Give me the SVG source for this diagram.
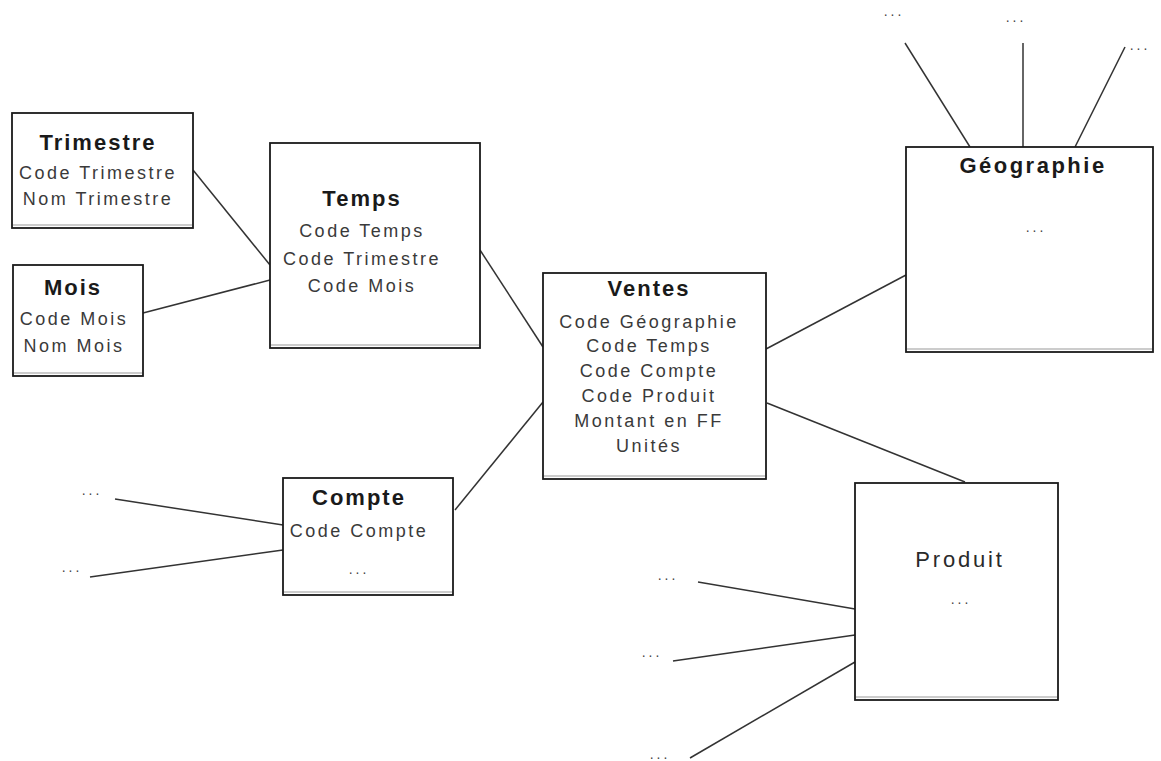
<svg xmlns="http://www.w3.org/2000/svg" width="1161" height="761" viewBox="0 0 1161 761">
<style>
.box{fill:#fff;stroke:#1a1a1a;stroke-width:1.8}
.sh{stroke:#999;stroke-width:1}
.t{font-family:"Liberation Sans",Arial,sans-serif;font-weight:bold;font-size:22px;letter-spacing:2px;fill:#1a1a1a;text-anchor:middle}
.a{font-family:"Liberation Sans",Arial,sans-serif;font-size:18px;letter-spacing:2.5px;fill:#3a3a3a;text-anchor:middle}
.p{font-family:"Liberation Sans",Arial,sans-serif;font-size:22px;letter-spacing:2.8px;fill:#2a2a2a;text-anchor:middle}
.d{font-family:"Liberation Sans",Arial,sans-serif;font-size:14px;letter-spacing:3px;fill:#444;text-anchor:middle}
.c{stroke:#333;stroke-width:1.5;fill:none}
</style>
<rect width="1161" height="761" fill="#fff"/>
<g id="connectors">
<line class="c" x1="193" y1="170" x2="270" y2="265"/>
<line class="c" x1="143" y1="313" x2="270" y2="280"/>
<line class="c" x1="480" y1="250" x2="543" y2="347"/>
<line class="c" x1="455" y1="510" x2="543" y2="402"/>
<line class="c" x1="766" y1="349" x2="906" y2="275"/>
<line class="c" x1="767" y1="403" x2="965" y2="482"/>
<line class="c" x1="905" y1="43" x2="970" y2="147"/>
<line class="c" x1="1023" y1="43" x2="1023" y2="147"/>
<line class="c" x1="1125" y1="47" x2="1075" y2="147"/>
<line class="c" x1="115" y1="499" x2="283" y2="525"/>
<line class="c" x1="90" y1="577" x2="283" y2="550"/>
<line class="c" x1="698" y1="582" x2="855" y2="609"/>
<line class="c" x1="673" y1="661" x2="855" y2="635"/>
<line class="c" x1="690" y1="758" x2="855" y2="662"/>
<text class="d" x="894" y="16">...</text>
<text class="d" x="1016" y="22">...</text>
<text class="d" x="1140" y="50">...</text>
<text class="d" x="92" y="495">...</text>
<text class="d" x="72" y="572">...</text>
<text class="d" x="668" y="580">...</text>
<text class="d" x="652" y="657">...</text>
<text class="d" x="660" y="759">...</text>
</g>
<g id="trimestre">
<rect class="box" x="12" y="113" width="181" height="115"/>
<line class="sh" x1="13" y1="225" x2="192" y2="225"/>
<text class="t" x="98" y="150">Trimestre</text>
<text class="a" x="98" y="179">Code Trimestre</text>
<text class="a" x="98" y="205">Nom Trimestre</text>
</g>
<g id="mois">
<rect class="box" x="13" y="265" width="130" height="111"/>
<line class="sh" x1="14" y1="373" x2="142" y2="373"/>
<text class="t" x="73" y="295">Mois</text>
<text class="a" x="74" y="325">Code Mois</text>
<text class="a" x="74" y="352">Nom Mois</text>
</g>
<g id="temps">
<rect class="box" x="270" y="143" width="210" height="205"/>
<line class="sh" x1="271" y1="345" x2="479" y2="345"/>
<text class="t" x="362" y="206">Temps</text>
<text class="a" x="362" y="237">Code Temps</text>
<text class="a" x="362" y="265">Code Trimestre</text>
<text class="a" x="362" y="292">Code Mois</text>
</g>
<g id="ventes">
<rect class="box" x="543" y="273" width="223" height="206"/>
<line class="sh" x1="544" y1="476" x2="765" y2="476"/>
<text class="t" x="649" y="296">Ventes</text>
<text class="a" x="649" y="328">Code Géographie</text>
<text class="a" x="649" y="352">Code Temps</text>
<text class="a" x="649" y="377">Code Compte</text>
<text class="a" x="649" y="402">Code Produit</text>
<text class="a" x="649" y="427">Montant en FF</text>
<text class="a" x="649" y="452">Unités</text>
</g>
<g id="compte">
<rect class="box" x="283" y="478" width="170" height="117"/>
<line class="sh" x1="284" y1="592" x2="452" y2="592"/>
<text class="t" x="359" y="505">Compte</text>
<text class="a" x="359" y="537">Code Compte</text>
<text class="d" x="359" y="574">...</text>
</g>
<g id="geographie">
<rect class="box" x="906" y="147" width="247" height="205"/>
<line class="sh" x1="907" y1="349" x2="1152" y2="349"/>
<text class="t" x="1033" y="173" style="letter-spacing:2.5px">Géographie</text>
<text class="d" x="1036" y="232">...</text>
</g>
<g id="produit">
<rect class="box" x="855" y="483" width="203" height="217"/>
<line class="sh" x1="856" y1="697" x2="1057" y2="697"/>
<text class="p" x="960" y="567">Produit</text>
<text class="d" x="961" y="604">...</text>
</g>
</svg>
